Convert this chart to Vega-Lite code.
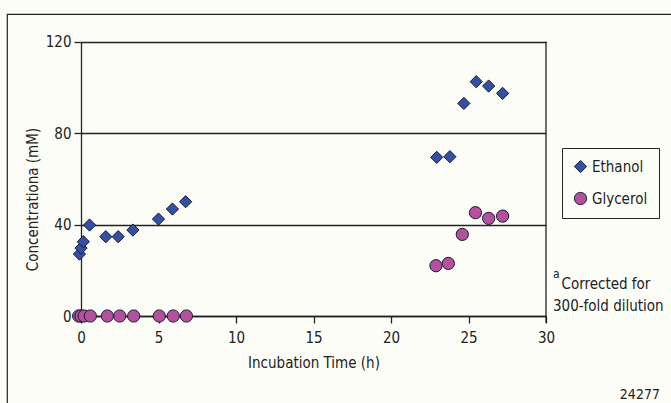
{
  "$schema": "https://vega.github.io/schema/vega-lite/v6.json",
  "width": 665,
  "height": 390,
  "autosize": "none",
  "padding": {"left": 7, "top": 14, "right": 0, "bottom": 0},
  "background": "#fdfdf8",
  "config": {
    "view": {"stroke": "#222", "strokeWidth": 1.2},
    "font": "DejaVu Sans Condensed, Roboto, sans-serif",
    "axis": {
      "labelFont": "DejaVu Sans Condensed, Roboto, sans-serif",
      "labelFontSize": 15,
      "labelColor": "#222",
      "labelFlush": false,
      "labelOverlap": false,
      "titleFont": "DejaVu Sans Condensed, Roboto, sans-serif",
      "titleFontSize": 15,
      "titleFontWeight": "normal",
      "titleColor": "#222",
      "domainColor": "#222",
      "domainWidth": 1.3,
      "tickColor": "#222",
      "tickWidth": 1.3,
      "tickSize": 7,
      "gridColor": "#222",
      "gridWidth": 1.3,
      "gridOpacity": 1
    },
    "legend": {
      "labelFont": "DejaVu Sans Condensed, Roboto, sans-serif",
      "labelFontSize": 15,
      "labelColor": "#222"
    }
  },
  "data": {
    "values": [
      {"time": -0.1, "conc": 27.1, "compound": "Ethanol"},
      {"time": 0.0, "conc": 29.7, "compound": "Ethanol"},
      {"time": 0.15, "conc": 32.5, "compound": "Ethanol"},
      {"time": 0.55, "conc": 39.8, "compound": "Ethanol"},
      {"time": 1.6, "conc": 34.7, "compound": "Ethanol"},
      {"time": 2.4, "conc": 34.7, "compound": "Ethanol"},
      {"time": 3.35, "conc": 37.6, "compound": "Ethanol"},
      {"time": 5.0, "conc": 42.4, "compound": "Ethanol"},
      {"time": 5.9, "conc": 46.8, "compound": "Ethanol"},
      {"time": 6.75, "conc": 50.0, "compound": "Ethanol"},
      {"time": 22.95, "conc": 69.4, "compound": "Ethanol"},
      {"time": 23.8, "conc": 69.7, "compound": "Ethanol"},
      {"time": 24.7, "conc": 93.0, "compound": "Ethanol"},
      {"time": 25.5, "conc": 102.5, "compound": "Ethanol"},
      {"time": 26.3, "conc": 100.6, "compound": "Ethanol"},
      {"time": 27.2, "conc": 97.4, "compound": "Ethanol"},
      {"time": -0.15, "conc": 0, "compound": "Glycerol"},
      {"time": 0.0, "conc": 0, "compound": "Glycerol"},
      {"time": 0.2, "conc": 0, "compound": "Glycerol"},
      {"time": 0.6, "conc": 0, "compound": "Glycerol"},
      {"time": 1.7, "conc": 0, "compound": "Glycerol"},
      {"time": 2.5, "conc": 0, "compound": "Glycerol"},
      {"time": 3.4, "conc": 0, "compound": "Glycerol"},
      {"time": 5.05, "conc": 0, "compound": "Glycerol"},
      {"time": 5.95, "conc": 0, "compound": "Glycerol"},
      {"time": 6.8, "conc": 0, "compound": "Glycerol"},
      {"time": 22.9, "conc": 22.0, "compound": "Glycerol"},
      {"time": 23.7, "conc": 23.0, "compound": "Glycerol"},
      {"time": 24.6, "conc": 35.7, "compound": "Glycerol"},
      {"time": 25.45, "conc": 45.2, "compound": "Glycerol"},
      {"time": 26.3, "conc": 42.7, "compound": "Glycerol"},
      {"time": 27.2, "conc": 43.7, "compound": "Glycerol"}
    ]
  },
  "layer": [
    {
      "mark": {"type": "point", "filled": true, "size": 150, "opacity": 1, "stroke": "#1a1a33", "strokeWidth": 1},
      "encoding": {
        "x": {
          "field": "time", "type": "quantitative",
          "scale": {"domain": [0, 30], "range": [74, 539], "nice": false, "zero": false},
          "axis": {"title": "Incubation Time (h)", "values": [0, 5, 10, 15, 20, 25, 30], "grid": false, "offset": -88, "labelPadding": 7, "titlePadding": 10}
        },
        "y": {
          "field": "conc", "type": "quantitative",
          "scale": {"domain": [0, 120], "range": [302, 27.7], "nice": false, "zero": false},
          "axis": {"title": "Concentrationa (mM)", "values": [0, 40, 80, 120], "grid": true, "offset": -74, "labelPadding": 3, "titlePadding": 5, "titleY": 185}
        },
        "color": {
          "field": "compound", "type": "nominal",
          "scale": {"domain": ["Ethanol", "Glycerol"], "range": ["#3450a5", "#b4519f"]},
          "legend": {"title": null, "orient": "none", "legendX": 555, "legendY": 134, "strokeColor": "#222", "fillColor": "#fdfdf8", "padding": 11, "rowPadding": 15, "symbolSize": 150, "symbolStrokeWidth": 1, "symbolStrokeColor": "#1a1a33", "labelOffset": 4, "labelExpr": "datum.label + '\u00a0\u00a0'"}
        },
        "shape": {
          "field": "compound", "type": "nominal",
          "scale": {"domain": ["Ethanol", "Glycerol"], "range": ["diamond", "circle"]},
          "legend": {"title": null, "orient": "none", "legendX": 555, "legendY": 134, "strokeColor": "#222", "fillColor": "#fdfdf8", "padding": 11, "rowPadding": 15, "symbolSize": 150, "symbolStrokeWidth": 1, "symbolStrokeColor": "#1a1a33", "labelOffset": 4, "labelExpr": "datum.label + '\u00a0\u00a0'"}
        }
      }
    },
    {
      "data": {"values": [{}]},
      "mark": {"type": "rule", "color": "#222", "strokeWidth": 1.3},
      "encoding": {
        "x": {"datum": 30, "type": "quantitative"},
        "y": {"datum": -3, "type": "quantitative"},
        "y2": {"datum": 120}
      }
    },
    {
      "data": {"values": [{}]},
      "mark": {"type": "text", "text": "a", "fontSize": 12, "align": "left", "baseline": "alphabetic", "color": "#222"},
      "encoding": {"x": {"datum": 30.45, "type": "quantitative"}, "y": {"datum": 16.6, "type": "quantitative"}}
    },
    {
      "data": {"values": [{}]},
      "mark": {"type": "text", "text": "Corrected for", "fontSize": 15, "align": "left", "baseline": "alphabetic", "color": "#222"},
      "encoding": {"x": {"datum": 31.0, "type": "quantitative"}, "y": {"datum": 11.8, "type": "quantitative"}}
    },
    {
      "data": {"values": [{}]},
      "mark": {"type": "text", "text": "300-fold dilution", "fontSize": 15, "align": "left", "baseline": "alphabetic", "color": "#222"},
      "encoding": {"x": {"datum": 30.45, "type": "quantitative"}, "y": {"datum": 2.19, "type": "quantitative"}}
    },
    {
      "data": {"values": [{}]},
      "mark": {"type": "text", "text": "24277", "fontSize": 14, "align": "right", "baseline": "alphabetic", "color": "#222"},
      "encoding": {"x": {"datum": 37.35, "type": "quantitative"}, "y": {"datum": -36.3, "type": "quantitative"}}
    }
  ]
}
